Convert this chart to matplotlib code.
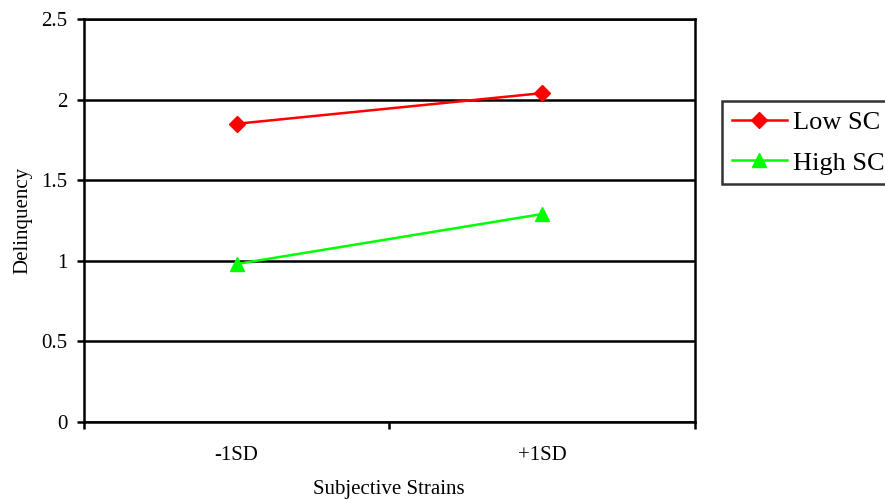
import numpy as np
import matplotlib.pyplot as plt

# data
categories = ['-1SD', '+1SD']
low_sc = [1.85, 2.04]
high_sc = [0.98, 1.29]
yticks = [0, 0.5, 1, 1.5, 2, 2.5]

plt.rcParams['font.family'] = ['Liberation Serif', 'DejaVu Serif']

fig = plt.figure(figsize=(8.85, 5), dpi=100)
ax = fig.add_axes([0.0949, 0.156, 0.690, 0.806])

x = np.arange(len(categories))
ax.plot(x, low_sc, color='#FF0000', lw=1.8, marker='D', ms=8, label='Low SC')
ax.plot(x, high_sc, color='#00FF00', lw=1.8, marker='^', ms=10, label='High SC')

ax.set_xlim(-0.5, len(categories) - 0.5)
ax.set_ylim(0, 2.5)
ax.set_yticks(yticks)
ax.set_yticklabels(['0', '0.5', '1', '1.5', '2', '2.5'])
ax.set_xticks(x)
ax.set_xticklabels(categories)
ax.set_xticks(np.arange(-0.5, len(categories), 1.0), minor=True)
ax.tick_params(axis='x', which='major', length=0, pad=17, labelsize=15)
ax.tick_params(axis='x', which='minor', length=5, width=1.8, direction='out')
ax.tick_params(axis='y', length=5, width=1.8, direction='out', labelsize=15, pad=7)

ax.yaxis.grid(True, color='black', lw=1.8)
ax.set_axisbelow(True)
for s in ax.spines.values():
    s.set_color('black')
    s.set_linewidth(1.8)

ax.set_ylabel('Delinquency', fontsize=15, labelpad=6)
ax.set_xlabel('Subjective Strains', fontsize=15, labelpad=11)

leg = fig.legend(loc='upper left', bbox_to_anchor=(0.816, 0.798), fontsize=19,
                 frameon=True, fancybox=False, edgecolor='black', handlelength=2.1,
                 borderpad=0.36, handletextpad=0.22, labelspacing=0.65, borderaxespad=0)
leg.get_frame().set_linewidth(1.8)

fig.savefig('out.png', dpi=100)
